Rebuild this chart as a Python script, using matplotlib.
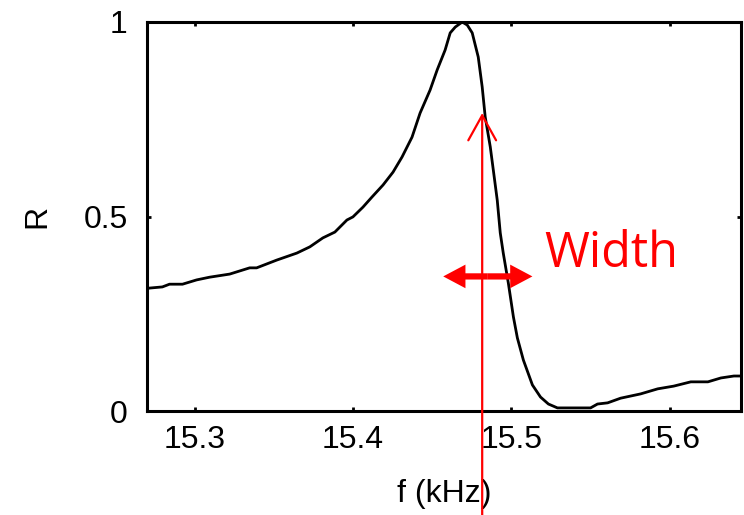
import numpy as np
import matplotlib.pyplot as plt

# resonance curve
freq = [15.2696, 15.2715, 15.2797, 15.2842, 15.2924, 15.3013, 15.3095, 15.3222,
        15.3348, 15.3392, 15.3519, 15.3646, 15.3728, 15.3810, 15.3886, 15.3962,
        15.4000, 15.4063, 15.4120, 15.4190, 15.4253, 15.4310, 15.4373, 15.4424,
        15.4487, 15.4532, 15.4582, 15.4614, 15.4646, 15.4690, 15.4722, 15.4753,
        15.4791, 15.4816, 15.4835, 15.4867, 15.4886, 15.4911, 15.4930, 15.4949,
        15.4981, 15.5013, 15.5038, 15.5076, 15.5133, 15.5184, 15.5234, 15.5291,
        15.5500, 15.5544, 15.5608, 15.5690, 15.5816, 15.5924, 15.6025, 15.6133,
        15.6241, 15.6323, 15.6405, 15.6456]
resp = [0.314, 0.316, 0.319, 0.326, 0.326, 0.337, 0.344, 0.352,
        0.368, 0.368, 0.388, 0.406, 0.422, 0.445, 0.460, 0.491,
        0.499, 0.524, 0.550, 0.581, 0.614, 0.653, 0.704, 0.766,
        0.825, 0.877, 0.928, 0.972, 0.987, 1.000, 0.992, 0.972,
        0.910, 0.833, 0.756, 0.679, 0.620, 0.542, 0.458, 0.406,
        0.329, 0.242, 0.188, 0.131, 0.067, 0.036, 0.018, 0.008,
        0.008, 0.018, 0.021, 0.033, 0.044, 0.057, 0.064, 0.075,
        0.075, 0.085, 0.090, 0.090]

f_mark = 15.4816      # red vertical marker
r_mark = 0.766
width_lo, width_hi = 15.457, 15.5133
r_width = 0.346

plt.rcParams['font.family'] = ['Liberation Sans', 'DejaVu Sans']

fig = plt.figure(figsize=(7.44, 5.15), dpi=100)
ax = fig.add_axes([0.1976, 0.2019, 0.7984, 0.7554])

ax.plot(freq, resp, color='black', lw=2)

ax.set_xlim(15.27, 15.645)
ax.set_ylim(0, 1)
ax.set_xticks([15.3, 15.4, 15.5, 15.6])
ax.set_yticks([0, 0.5, 1])
ax.set_yticklabels(['0', '0.5', '1'])
ax.tick_params(direction='in', length=3, width=2, labelsize=23,
               top=True, right=True)
ax.tick_params(axis='x', pad=10)
ax.tick_params(axis='y', pad=14)
for s in ax.spines.values():
    s.set_linewidth(2.2)

ax.set_xlabel('f (kHz)', fontsize=23, labelpad=17)
ax.set_ylabel('R', fontsize=23, labelpad=22)

# vertical red arrow running off the bottom of the figure
ax.annotate('', xy=(f_mark, r_mark), xycoords='data',
            xytext=(f_mark, 0.0), textcoords=('data', 'figure fraction'),
            arrowprops=dict(arrowstyle='->,head_length=18,head_width=10',
                            mutation_scale=1, color='red', lw=1.6,
                            shrinkA=0, shrinkB=0),
            annotation_clip=False, zorder=10)

# double-headed width arrow
mid = (width_lo + width_hi) / 2
for end in (width_lo, width_hi):
    ax.annotate('', xy=(end, r_width), xytext=(mid, r_width),
                arrowprops=dict(arrowstyle='simple,head_length=16,head_width=17,tail_width=4.5',
                                mutation_scale=1, color='red', lw=0,
                                shrinkA=0, shrinkB=0),
                zorder=10)

ax.text(15.5209, 0.370, 'Width', color='red', fontsize=35,
        family='Open Sans', ha='left', va='baseline')

fig.savefig('out.png', dpi=100)
